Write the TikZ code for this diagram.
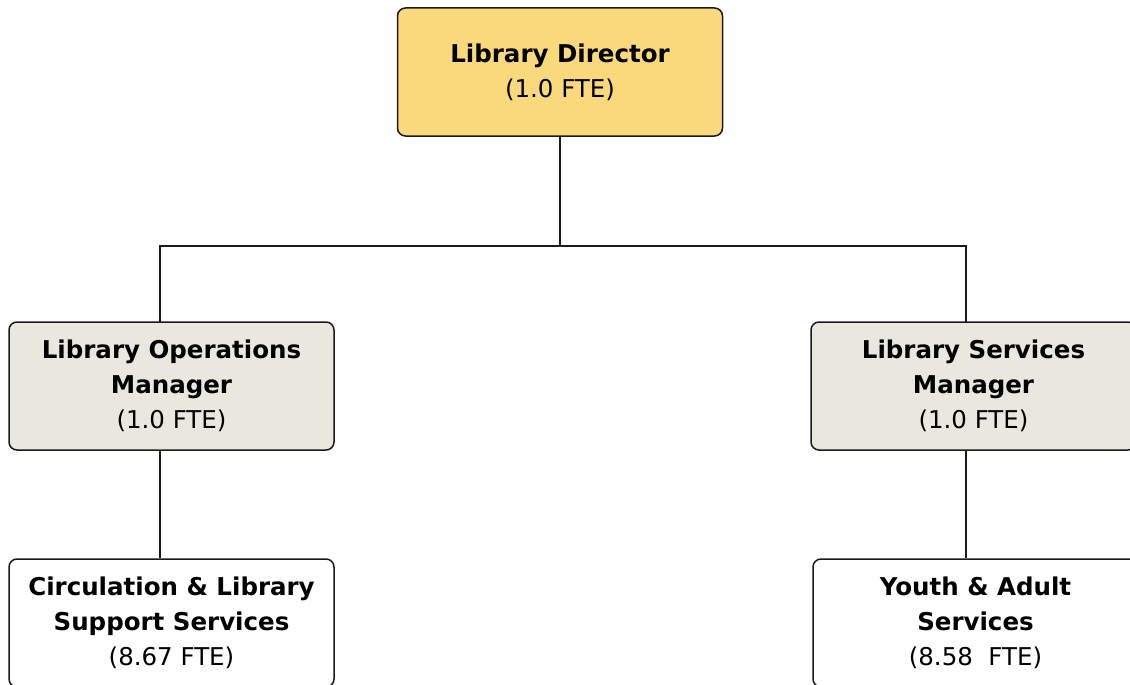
\documentclass[tikz,border=0pt]{standalone}
\usepackage{fontspec}
\setmainfont{DejaVu Sans}
\definecolor{diryellow}{HTML}{F9D97B}
\definecolor{mgrgray}{HTML}{E8E8DF}
\definecolor{edge}{HTML}{1A1A1A}
\begin{document}
\begin{tikzpicture}[x=1pt,y=-1pt,
  box/.style={draw=edge, line width=1.5pt, rounded corners=8pt, minimum width=325pt, minimum height=128pt, align=center, inner sep=0pt, font=\fontsize{24.5}{35}\selectfont},
  link/.style={draw=edge, line width=2.5pt}]
\useasboundingbox (0,0) rectangle (1130,685);
\clip (0,0) rectangle (1130,685);
\node[box, fill=diryellow] (dir) at (560,72) {\textbf{Library Director}\\(1.0 FTE)};
\node[box, fill=mgrgray] (lom) at (171.5,386) {\textbf{Library Operations}\\\textbf{Manager}\\(1.0 FTE)};
\node[box, fill=mgrgray] (lsm) at (973.5,386) {\textbf{Library Services}\\\textbf{Manager}\\(1.0 FTE)};
\node[box, fill=white] (cls) at (171.5,623) {\textbf{Circulation \& Library}\\\textbf{Support Services}\\(8.67 FTE)};
\node[box, fill=white] (yas) at (975.5,623) {\textbf{Youth \& Adult}\\\textbf{Services}\\(8.58~~FTE)};
\coordinate (j) at (560,246);
\coordinate (hl) at (160,246);
\coordinate (hr) at (966,246);
\draw[link] (dir.south) -- (j);
\draw[link, line cap=rect] (lom.north -| hl) -- (hl) -- (hr) -- (lsm.north -| hr);
\draw[link] (lom.south -| hl) -- (cls.north -| hl);
\draw[link] (lsm.south -| hr) -- (yas.north -| hr);
\end{tikzpicture}
\end{document}
